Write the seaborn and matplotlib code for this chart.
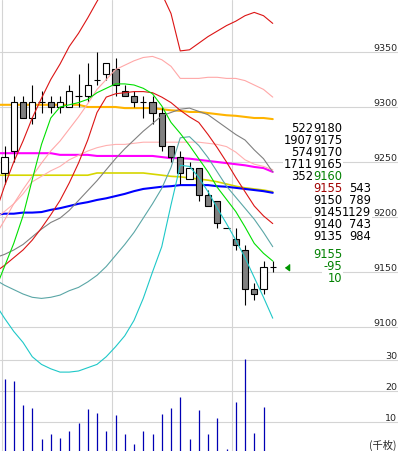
import numpy as np
import matplotlib
matplotlib.use("Agg")
import matplotlib.pyplot as plt
import seaborn as sns

# 5-minute bars, prices in yen
opens = [9240, 9260, 9305, 9290, 9305, 9305, 9300, 9300, 9310, 9310,
         9325, 9330, 9335, 9315, 9310, 9305, 9305, 9295, 9265, 9255,
         9235, 9245, 9220, 9215, 9190, 9180, 9170, 9135, 9135, 9155]
highs = [9265, 9310, 9310, 9320, 9315, 9310, 9310, 9320, 9330, 9340,
         9350, 9340, 9345, 9320, 9315, 9310, 9310, 9300, 9265, 9260,
         9250, 9245, 9225, 9215, 9190, 9190, 9175, 9140, 9160, 9160]
lows = [9230, 9250, 9290, 9285, 9295, 9295, 9295, 9300, 9300, 9305,
        9320, 9325, 9310, 9310, 9300, 9290, 9285, 9260, 9250, 9230,
        9235, 9215, 9210, 9190, 9190, 9170, 9120, 9125, 9130, 9150]
closes = [9255, 9305, 9290, 9305, 9305, 9300, 9305, 9315, 9310, 9320,
          9325, 9340, 9320, 9310, 9305, 9305, 9295, 9265, 9255, 9240,
          9245, 9220, 9210, 9195, 9190, 9175, 9135, 9130, 9155, 9155]

# volume (thousand shares)
volumes = [23.9, 23.2, 15.5, 14.5, 4.5, 6.1, 4.8, 7.1, 9.7, 14.2,
           12.9, 7.1, 12.3, 6.1, 2.9, 7.1, 6.1, 12.6, 14.5, 18.1,
           4.5, 13.9, 6.1, 11.3, 1.3, 16.5, 30.3, 6.5, 14.8]

# indicator lines, one value per bar, starting one bar before the first candle
bb_up2 = [9203, 9228, 9250, 9269, 9290, 9308, 9325, 9339, 9355, 9367,
          9381, 9396, 9410, 9421, 9428, 9430, 9426, 9417, 9403, 9385,
          9351, 9352, 9358, 9364, 9369, 9374, 9378, 9383, 9386, 9383, 9376]
bb_up1 = [9183, 9197, 9212, 9225, 9237, 9249, 9260, 9269, 9280, 9291,
          9303, 9316, 9325, 9334, 9338, 9342, 9345, 9346, 9343, 9337,
          9326, 9326, 9326, 9327, 9327, 9326, 9326, 9324, 9320, 9316, 9309]
bb_mid = [9163, 9166, 9170, 9175, 9182, 9189, 9195, 9199, 9206, 9215,
          9224, 9233, 9243, 9253, 9262, 9270, 9278, 9285, 9292, 9295,
          9298, 9299, 9296, 9293, 9287, 9281, 9275, 9270, 9261, 9253, 9241]
bb_lo1 = [9143, 9138, 9134, 9130, 9127, 9126, 9127, 9129, 9133, 9136,
          9141, 9147, 9155, 9165, 9175, 9186, 9199, 9212, 9226, 9245,
          9272, 9273, 9265, 9254, 9241, 9228, 9218, 9208, 9198, 9186, 9173]
bb_lo2 = [9121, 9108, 9096, 9086, 9073, 9066, 9062, 9059, 9059, 9060,
          9063, 9066, 9073, 9082, 9092, 9106, 9126, 9150, 9173, 9211,
          9247, 9246, 9236, 9223, 9208, 9194, 9179, 9163, 9145, 9127, 9108]
ma_short = [9134, 9155, 9176, 9201, 9234, 9266, 9290, 9300, 9302, 9304,
            9307, 9313, 9317, 9321, 9321, 9320, 9317, 9312, 9301, 9286,
            9276, 9265, 9253, 9241, 9227, 9216, 9205, 9191, 9176, 9167, 9160]
ma_mid = [9150, 9156, 9163, 9170, 9179, 9190, 9202, 9215, 9231, 9249,
          9270, 9295, 9309, 9312, 9313, 9314, 9314, 9313, 9309, 9304,
          9297, 9291, 9286, 9275, 9263, 9250, 9236, 9223, 9210, 9201, 9194]
ma_pink = [9199, 9205, 9212, 9221, 9232, 9237, 9242, 9246, 9252, 9256,
           9260, 9263, 9265, 9266, 9266, 9267, 9268, 9268, 9268, 9268,
           9268, 9268, 9268, 9267, 9266, 9264, 9259, 9252, 9248, 9246, 9243]
ma_magenta = [9258, 9258, 9258, 9258, 9258, 9258, 9258, 9256.5, 9256.5, 9256.5,
              9256.5, 9255.5, 9255.5, 9255.5, 9255.5, 9255.5, 9255.5, 9255.5, 9254.5, 9253.5,
              9253.5, 9253, 9252, 9251, 9250, 9249, 9248, 9247, 9245.5, 9244.5, 9241]
ma_orange = [9302, 9302, 9302, 9302, 9302, 9302, 9302, 9302, 9302, 9302,
             9300, 9300, 9300, 9300, 9299, 9299, 9299, 9299, 9298, 9297,
             9296.5, 9295.5, 9295.5, 9294.5, 9293.5, 9292.5, 9292, 9291, 9290, 9290, 9289]
ma_yellow = [9238, 9238, 9238, 9238, 9238, 9238, 9238, 9238, 9238, 9238,
             9238, 9240, 9240, 9240, 9240, 9240, 9240, 9239, 9238, 9237,
             9236.5, 9235.5, 9234.5, 9233.5, 9232, 9230, 9228, 9226.5, 9225.5, 9224.5, 9223]
ma_blue = [9202, 9203, 9203, 9204, 9204, 9204.5, 9206.5, 9208, 9210, 9212,
           9213.5, 9215.5, 9217, 9219, 9221, 9223.5, 9225.5, 9226.5, 9227.5, 9228,
           9229, 9229, 9229, 9229, 9228, 9227.5, 9226.5, 9225.5, 9224.5, 9223.5, 9222]

# order board
ask_vols = [522, 1907, 574, 1711, 352]
ask_prices = [9180, 9175, 9170, 9165, 9160]
bid_prices = [9155, 9150, 9145, 9140, 9135]
bid_vols = [543, 789, 1129, 743, 984]
last_price = 9155
change = -95
last_vol = 10

price_ticks = [9350, 9300, 9250, 9200, 9150, 9100]
vol_ticks = [10, 20, 30]

# ---- layout (pixels) ----
W, H = 398, 451
X0, DX = 4.5, 9.25          # first bar centre, bar spacing
Y9350, PY = 52, 1.1         # pixel row of 9350, pixels per yen
V0, PV = 453, 3.1           # pixel row of zero volume, pixels per unit

def px2x(px):
    return (px - X0) / DX

grid_c = "#d4d4d4"
board_font = ["Liberation Sans Narrow", "DejaVu Sans"]

sns.set_style("white")
plt.rcParams["font.family"] = ["DejaVu Sans"]

fig = plt.figure(figsize=(W / 100, H / 100), dpi=100)
ax_v = fig.add_axes([0, 0, 1, 1])
ax = fig.add_axes([0, 0, 1, 1])
ax.patch.set_visible(False)

ax.set_xlim(px2x(0), px2x(W))
ax_v.set_xlim(px2x(0), px2x(W))
ax.set_ylim(9350 - (H - Y9350) / PY, 9350 + Y9350 / PY)
ax_v.set_ylim((V0 - H) / PV, V0 / PV)

# grid
for p in price_ticks:
    ax.axhline(p, color=grid_c, lw=0.8, zorder=0)
for v in vol_ticks:
    ax_v.axhline(v, color=grid_c, lw=0.8, zorder=0)
for gx in [1, 111, 231]:
    ax_v.axvline(px2x(gx + 0.5), color=grid_c, lw=0.8, zorder=0)

# volume
vi = np.arange(len(volumes))
ax_v.vlines(vi, 0, volumes, color="#0000b4", lw=0.9, zorder=2)

# slow averages behind the candles
li = np.arange(len(bb_mid)) - 1
slow = [(ma_orange, "#ffb400", 1.5), (ma_yellow, "#d6d600", 1.2),
        (ma_blue, "#0000ff", 1.5), (ma_magenta, "#ff00ff", 1.5),
        (ma_pink, "#ffb0b0", 0.8)]
for vals, c, lw in slow:
    sns.lineplot(x=li, y=vals, color=c, linewidth=lw, ax=ax, legend=False, zorder=2)

# candles
ci = np.arange(len(opens))
o = np.array(opens)
c = np.array(closes)
fills = ["white" if cc >= oo else "#808080" for oo, cc in zip(o, c)]
ax.vlines(ci, lows, highs, color="black", lw=0.8, zorder=3)
ax.bar(ci, c - o, bottom=o, width=0.66, color=fills, edgecolor="black",
       linewidth=0.8, zorder=4)

# bands and fast averages on top
fast = [(bb_mid, "#808080"), (bb_up1, "#ffa8a8"), (bb_lo1, "#5aa6a6"),
        (bb_up2, "#dc1414"), (bb_lo2, "#1ec8c8"), (ma_mid, "#dc1414"),
        (ma_short, "#00e000")]
for vals, col in fast:
    sns.lineplot(x=li, y=vals, color=col, linewidth=0.8, ax=ax, legend=False, zorder=5)

# current price marker
ax.plot(px2x(287), last_price, marker=[(-2, 0), (2, -3), (2, 3)], ms=4.5,
        color="#009600", zorder=6)

ax.set_axis_off()
ax_v.set_axis_off()

# right-hand scale labels
for p in price_ticks:
    ax.annotate(str(p), xy=(397 / W, p), xycoords=("figure fraction", "data"),
                xytext=(0, 1), textcoords="offset pixels", ha="right",
                va="baseline", fontsize=6.8)
for v in vol_ticks:
    ax_v.annotate(str(v), xy=(397 / W, v), xycoords=("figure fraction", "data"),
                  xytext=(0, 1), textcoords="offset pixels", ha="right",
                  va="baseline", fontsize=6.8)
fig.text(397 / W, 1 - 440 / H, "(千枚)", ha="right", va="top", fontsize=7.4,
         family=["Noto Sans CJK JP", "DejaVu Sans"])

# board
def board(xr, yc, s, col="black"):
    fig.text(xr / W, 1 - yc / H, s, ha="right", va="center", fontsize=8.3,
             color=col, family=board_font,
             bbox=dict(facecolor="white", edgecolor="none", pad=0.6))

row_h = 12.1
for k, (av, ap) in enumerate(zip(ask_vols, ask_prices)):
    y = 128 + row_h * k
    board(313, y, str(av))
    board(342, y, str(ap), "#008000" if k == len(ask_prices) - 1 else "black")
for k, (bp, bv) in enumerate(zip(bid_prices, bid_vols)):
    y = 128 + row_h * (k + 5)
    board(342, y, str(bp), "#a00000" if k == 0 else "black")
    board(371, y, str(bv))
board(342, 254, str(last_price), "#008000")
board(342, 266.5, str(change), "#008000")
board(342, 278.5, str(last_vol), "#008000")

fig.savefig("out.png", dpi=100, facecolor="white")
